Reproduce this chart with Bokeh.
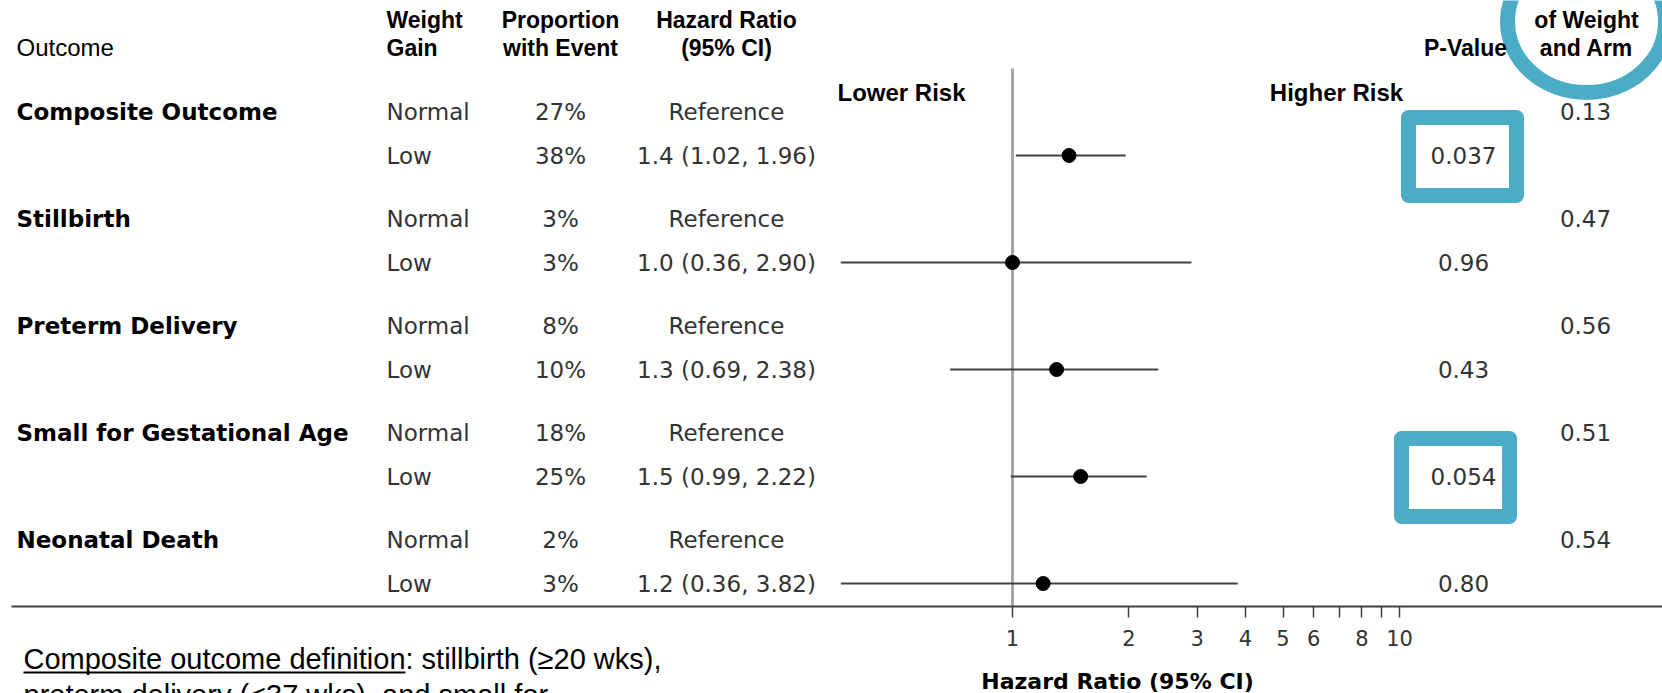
from bokeh.plotting import figure
from bokeh.layouts import column
from bokeh.models import (Range1d, LogScale, LogAxis, FixedTicker, NumeralTickFormatter,
                          ColumnDataSource)
from bokeh.embed import file_html
from bokeh.resources import INLINE
from bokeh.core.properties import value

# ---------------- data ----------------
outcomes = ["Composite Outcome", "Stillbirth", "Preterm Delivery",
            "Small for Gestational Age", "Neonatal Death"]
weight_gain = ["Normal", "Low"]
prop_normal = [27, 3, 8, 18, 2]          # % with event, normal weight gain
prop_low = [38, 3, 10, 25, 3]            # % with event, low weight gain
hr = [1.4, 1.0, 1.3, 1.5, 1.2]
hr_lo = [1.02, 0.36, 0.69, 0.99, 0.36]
hr_hi = [1.96, 2.90, 2.38, 2.22, 3.82]
p_value = ["0.037", "0.96", "0.43", "0.054", "0.80"]
p_interaction = ["0.13", "0.47", "0.56", "0.51", "0.54"]
highlighted = ["0.037", "0.054"]
tick_values = [1, 2, 3, 4, 5, 6, 8, 10]
minor_tick_values = [7, 9]

# ---------------- layout (layout units = pixels of the page) ----------------
W, H = 1662, 693
FRAME_L, FRAME_R, FRAME_T, FRAME_B = 11, W, 0, 606
HR1_X, DECADE = 1012, 387
ROW0, GROUP, SUB = 111, 107, 44
X_OUT, X_WG, X_PROP, X_HR, X_P, X_INT = 16, 386, 560, 726, 1463, 1585
TEAL = "#4BACC6"
BODY = "#333333"
BODY_SIZE = "23px"

hr_start = 10 ** ((FRAME_L - HR1_X) / DECADE)
hr_end = 10 ** ((FRAME_R - HR1_X) / DECADE)

y_normal = [ROW0 + GROUP * i for i in range(len(outcomes))]
y_low = [y + SUB for y in y_normal]

x_range = Range1d(FRAME_L, FRAME_R)
p = figure(width=W, height=H, output_backend="svg", toolbar_location=None,
           x_range=x_range, y_range=Range1d(FRAME_B, FRAME_T),
           x_axis_location=None, y_axis_location=None,
           min_border_left=FRAME_L, min_border_right=0, min_border_top=FRAME_T,
           min_border_bottom=H - FRAME_B,
           outline_line_color=None, background_fill_color="white",
           border_fill_color="white")
p.grid.visible = False
p.extra_x_ranges = {"hr": Range1d(hr_start, hr_end)}
p.extra_x_scales = {"hr": LogScale()}

ax = LogAxis(x_range_name="hr",
             ticker=FixedTicker(ticks=tick_values, minor_ticks=minor_tick_values),
             formatter=NumeralTickFormatter(format="0"))
ax.axis_line_color = "#404040"
ax.axis_line_width = 2
ax.major_tick_line_color = "#404040"
ax.minor_tick_line_color = "#404040"
ax.major_tick_line_width = 1.5
ax.minor_tick_line_width = 1.5
ax.major_tick_in = 0
ax.major_tick_out = 11
ax.minor_tick_in = 0
ax.minor_tick_out = 11
ax.major_label_standoff = 12
ax.major_label_text_font = "DejaVu Sans"
ax.major_label_text_font_size = "21px"
ax.major_label_text_color = BODY
p.add_layout(ax, "below")

# ---------------- highlights ----------------
p.ellipse(x=[X_INT + 1], y=[21], width=158, height=142, fill_color=None,
          line_color=TEAL, line_width=15)
box_x = [1462, 1455]
box_y = [y_low[p_value.index(v)] + 1 for v in highlighted]
p.rect(x=box_x, y=box_y, width=108, height=78, fill_color=None,
       line_color=TEAL, line_width=15, line_join="round")

# ---------------- forest marks ----------------
p.segment(x0=[1], x1=[1], y0=[68], y1=[FRAME_B], x_range_name="hr",
          line_color="#a6a6a6", line_width=3)
p.segment(x0=hr_lo, x1=hr_hi, y0=y_low, y1=y_low, x_range_name="hr",
          line_color="#404040", line_width=2)
p.scatter(x=hr, y=y_low, x_range_name="hr", size=14, marker="circle",
          fill_color="black", line_color="black")

# ---------------- table text ----------------
def txt(fig, xs, ys, texts, font, size, align="left", style="normal", color="black"):
    src = ColumnDataSource(dict(x=xs, y=ys, t=texts))
    fig.text(x="x", y="y", text="t", source=src, text_font=value(font),
             text_font_size=value(size), text_font_style=style, text_color=color,
             text_align=align, text_baseline="middle")

n = len(outcomes)
txt(p, [X_OUT] * n, y_normal, outcomes, "DejaVu Sans", "23px", style="bold")
txt(p, [X_WG] * n, y_normal, [weight_gain[0]] * n, "DejaVu Sans", BODY_SIZE, color=BODY)
txt(p, [X_WG] * n, y_low, [weight_gain[1]] * n, "DejaVu Sans", BODY_SIZE, color=BODY)
txt(p, [X_PROP] * n, y_normal, [f"{v}%" for v in prop_normal], "DejaVu Sans", BODY_SIZE,
    align="center", color=BODY)
txt(p, [X_PROP] * n, y_low, [f"{v}%" for v in prop_low], "DejaVu Sans", BODY_SIZE,
    align="center", color=BODY)
txt(p, [X_HR] * n, y_normal, ["Reference"] * n, "DejaVu Sans", BODY_SIZE,
    align="center", color=BODY)
txt(p, [X_HR] * n, y_low,
    [f"{h:.1f} ({l:.2f}, {u:.2f})" for h, l, u in zip(hr, hr_lo, hr_hi)],
    "DejaVu Sans", BODY_SIZE, align="center", color=BODY)
txt(p, [X_P] * n, y_low, p_value, "DejaVu Sans", BODY_SIZE, align="center", color=BODY)
txt(p, [X_INT] * n, y_normal, p_interaction, "DejaVu Sans", BODY_SIZE, align="center",
    color=BODY)

# headers
HDR = "Liberation Sans"
txt(p, [X_OUT], [47], ["Outcome"], HDR, "24px")
txt(p, [X_WG, X_WG], [19, 47], ["Weight", "Gain"], HDR, "23px", style="bold")
txt(p, [X_PROP, X_PROP], [19, 47], ["Proportion", "with Event"], HDR, "23px",
    align="center", style="bold")
txt(p, [X_HR, X_HR], [19, 47], ["Hazard Ratio", "(95% CI)"], HDR, "23px",
    align="center", style="bold")
txt(p, [1465], [47], ["P-Value"], HDR, "23px", align="center", style="bold")
txt(p, [X_INT + 1, X_INT + 1], [19, 47], ["of Weight", "and Arm"], HDR, "23px",
    align="center", style="bold")
txt(p, [901, 1336], [92, 92], ["Lower Risk", "Higher Risk"], HDR, "24px",
    align="center", style="bold")

# ---------------- lower strip: overlaid transparent figure for footnote + axis title ----------------
SH = H - FRAME_B
q = figure(width=W, height=SH, output_backend="svg", toolbar_location=None,
           x_range=x_range, y_range=Range1d(H, FRAME_B),
           x_axis_location=None, y_axis_location=None,
           min_border_left=FRAME_L, min_border_right=0, min_border_top=0,
           min_border_bottom=0, outline_line_color=None,
           background_fill_color=None, border_fill_color=None,
           styles={"margin-top": f"-{SH}px"})
q.grid.visible = False

txt(q, [1117], [681], ["Hazard Ratio (95% CI)"], "DejaVu Sans", "22px",
    align="center", style="bold")
FN_X, FN_Y, FN_SIZE, FN_LEAD = 23, 658, 29, 36
under = "Composite outcome definition"
under_w = 13.172 * FN_SIZE
txt(q, [FN_X, FN_X + under_w, FN_X], [FN_Y, FN_Y, FN_Y + FN_LEAD],
    [under, ": stillbirth (\u226520 wks),", "preterm delivery (<37 wks), and small for"],
    "Liberation Sans", f"{FN_SIZE}px")
q.segment(x0=[FN_X], x1=[FN_X + under_w], y0=[FN_Y + 14], y1=[FN_Y + 14],
          line_color="black", line_width=2)

layout = column(p, q, spacing=0)
open("out.html", "w").write(file_html(layout, INLINE))
